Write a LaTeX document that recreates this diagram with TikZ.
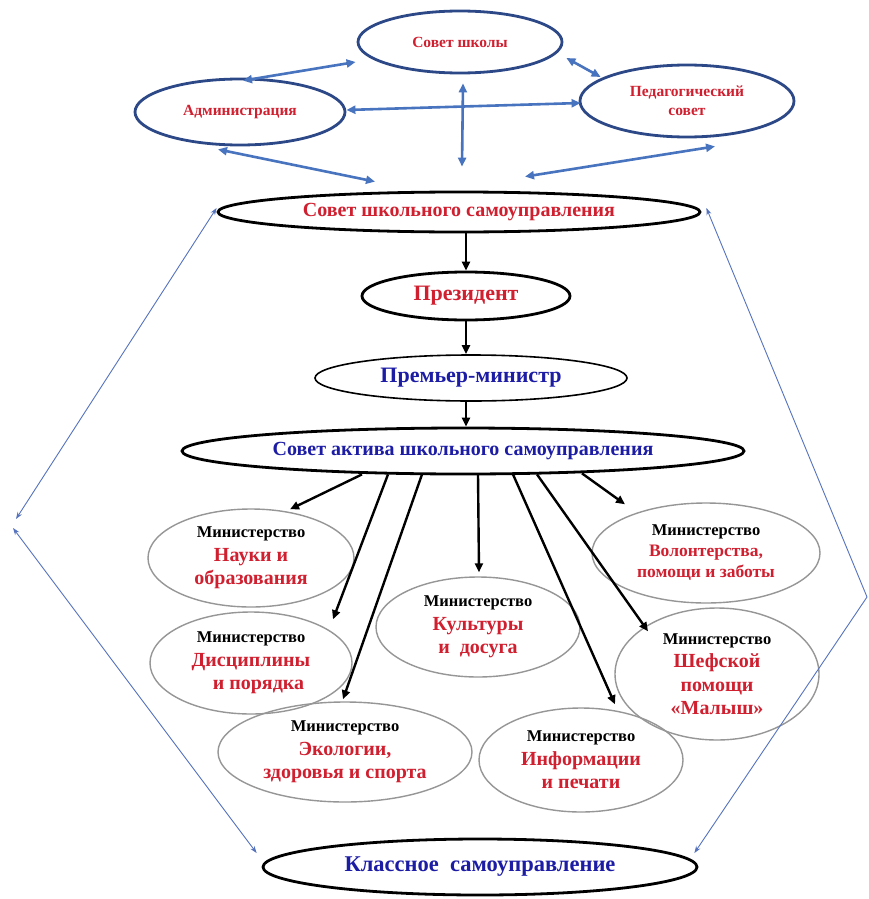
\documentclass[tikz,border=0pt]{standalone}
\usepackage{fontspec}
\setmainfont{Liberation Serif}
\usetikzlibrary{shapes.geometric,arrows.meta,calc}
\definecolor{tred}{RGB}{208,32,48}
\definecolor{tblue}{RGB}{28,28,165}
\definecolor{eblue}{RGB}{45,72,135}
\definecolor{ablue}{RGB}{72,115,190}
\definecolor{lblue}{RGB}{85,115,190}
\definecolor{mgrey}{RGB}{150,150,150}
\newcommand{\mtl}{{\fontsize{16.5}{23}\selectfont\color{black}Министерство}}
\newcommand{\mnm}[1]{{\color{tred}#1}}
\begin{document}
\begin{tikzpicture}[x=1pt,y=-1pt,
 topell/.style={ellipse, draw=eblue, line width=2.8pt, inner sep=0pt, text=tred, font=\bfseries\fontsize{15.5}{19}\selectfont, align=center},
 mainell/.style={ellipse, draw=black, line width=2.8pt, inner sep=0pt},
 minell/.style={ellipse, draw=mgrey, line width=1.4pt, inner sep=0pt, align=center, font=\bfseries\fontsize{20}{23.5}\selectfont},
 barrow/.style={-{Triangle[length=9pt,width=8pt]}, line width=2.4pt},
 tarrow/.style={{Triangle[length=9pt,width=8pt]}-{Triangle[length=9pt,width=8pt]}, draw=ablue, line width=2.6pt},
 thinblue/.style={draw=lblue, line width=0.9pt},
 thinboth/.style={thinblue, {Stealth[length=7pt,width=5pt]}-{Stealth[length=7pt,width=5pt]}},
 thinend/.style={thinblue, -{Stealth[length=7pt,width=5pt]}}]
\useasboundingbox (0,0) rectangle (869,899);
\fill[white] (0,0) rectangle (869,899);

% top level
\node[topell, minimum width=204pt, minimum height=62pt] (sch) at (460,42) {Совет школы};
\node[topell, minimum width=210pt, minimum height=66pt] (adm) at (240,112) {Администрация};
\node[topell, minimum width=214pt, minimum height=72pt] (ped) at (687,101) {Педагогический\\совет};

% main chain
\node[mainell, minimum width=482pt, minimum height=40pt, text=tred, font=\bfseries\fontsize{20}{24}\selectfont] (ssu) at (459,212) {Совет школьного самоуправления};
\node[mainell, minimum width=208pt, minimum height=48pt, text=tred, font=\bfseries\fontsize{22}{26}\selectfont] (pres) at (466,296) {Президент};
\node[mainell, line width=1.6pt, minimum width=312pt, minimum height=46pt, text=tblue, font=\bfseries\fontsize{22}{26}\selectfont] (pm) at (471,378) {Премьер-министр};
\node[mainell, minimum width=562pt, minimum height=46pt, text=tblue, font=\bfseries\fontsize{20}{24}\selectfont] (sa) at (463,451) {Совет актива школьного самоуправления};
\node[mainell, minimum width=434pt, minimum height=56pt, text=tblue, font=\bfseries\fontsize{22.5}{26}\selectfont] (kl) at (480,867) {Классное\ \ самоуправление};

% ministries
\node[minell, minimum width=206pt, minimum height=98pt] (nau) at (251,558) {\mtl\\\mnm{Науки и}\\\mnm{образования}};
\node[minell, minimum width=202pt, minimum height=102pt] (dis) at (251,663) {\mtl\\\mnm{Дисциплины}\\\mnm{\ \ \ и порядка}};
\node[minell, minimum width=254pt, minimum height=100pt] (eco) at (345,752) {\mtl\\\mnm{Экологии,}\\\mnm{здоровья и спорта}};
\node[minell, minimum width=204pt, minimum height=100pt] (kul) at (478,627) {\mtl\\\mnm{Культуры}\\\mnm{и\ \ досуга}};
\node[minell, minimum width=204pt, minimum height=104pt] (inf) at (581,760) {\mtl\\\mnm{Информации}\\\mnm{и печати}};
\node[minell, minimum width=228pt, minimum height=100pt, font=\bfseries\fontsize{17.5}{21}\selectfont] (vol) at (706,553) {\mtl\\\mnm{Волонтерства,}\\\mnm{помощи и заботы}};
\node[minell, minimum width=204pt, minimum height=132pt] (shef) at (717,674) {\mtl\\\mnm{Шефской}\\\mnm{помощи}\\\mnm{«Малыш»}};

% top blue arrows
\draw[tarrow] ($(adm.north)+(3,3)$) -- ($(sch.west)+(-1,20)$);
\draw[tarrow] ($(sch.east)+(3,16)$) -- ($(ped.west)+(22,-24)$);
\draw[tarrow] ($(adm.east)+(0,-2)$) -- ($(ped.west)+(2,2)$);
\draw[tarrow] ($(sch.south)+(3,9)$) -- ($(ssu.north)+(3,-24)$);
\draw[tarrow] ($(adm.south)+(-22,3)$) -- ($(ssu.north)+(-84,-9)$);
\draw[tarrow] ($(ped.south)+(28,8)$) -- ($(ssu.north)+(66,-14)$);

% chain arrows
\draw[barrow] (pres.north |- ssu.south) -- (pres.north);
\draw[barrow] (pres.south) -- (pres.south |- pm.north);
\draw[barrow] (pres.south |- pm.south) -- (pres.south |- sa.north);

% ministry arrows
\draw[barrow] ($(sa.south)+(-101,-1)$) -- ($(nau.north)+(39,1)$);
\draw[barrow] ($(sa.south)+(-75,-1)$) -- ($(dis.north)+(82,8)$);
\draw[barrow] ($(sa.south)+(-41,-1)$) -- ($(eco.north)+(-2,-2)$);
\draw[barrow] ($(sa.south)+(15,-1)$) -- ($(kul.north)+(1,-4)$);
\draw[barrow] ($(sa.south)+(50,-1)$) -- ($(inf.north)+(34,-3)$);
\draw[barrow] ($(sa.south)+(74,-1)$) -- ($(shef.north)+(-69,24)$);
\draw[barrow] ($(sa.south)+(119,-2)$) -- ($(vol.north)+(-81,2)$);

% thin side lines
\coordinate (L1) at (16,519);
\coordinate (L2) at (13,528);
\coordinate (R) at (867,597);
\draw[thinboth] ($(ssu.west)+(0,-4)$) -- (L1);
\draw[thinboth] (L2) -- ($(kl.west)+(-5,-14)$);
\draw[thinend] (R) -- ($(ssu.east)+(5,-4)$);
\draw[thinend] (R) -- ($(kl.east)+(-4,-14)$);
\end{tikzpicture}
\end{document}
